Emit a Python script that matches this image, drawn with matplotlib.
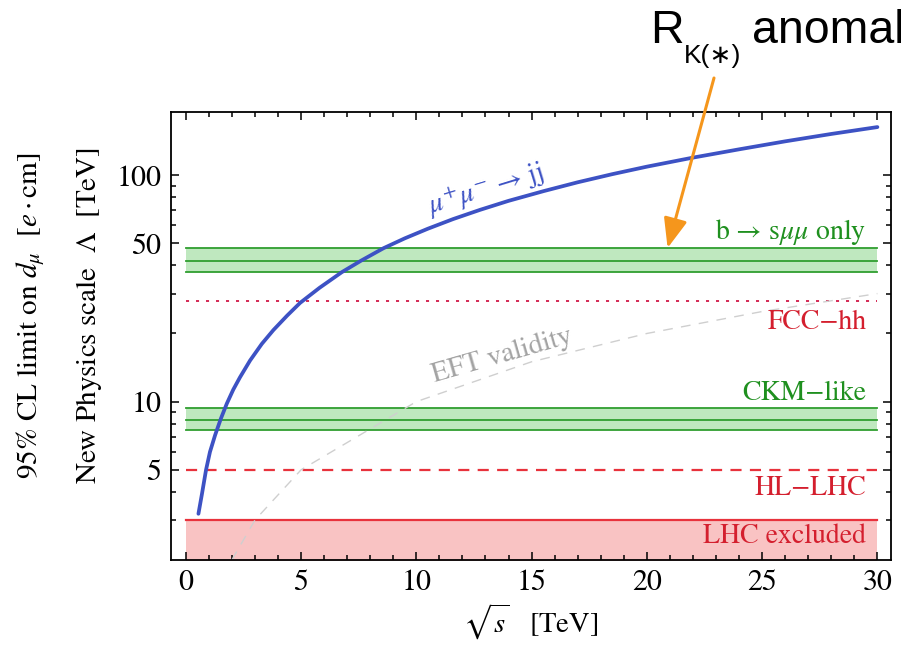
import matplotlib
matplotlib.use("Agg")
import matplotlib.pyplot as plt
from matplotlib.ticker import MultipleLocator, FixedLocator, NullFormatter

plt.rcParams.update({
    "font.family": "STIXGeneral",
    "mathtext.fontset": "stix",
    "lines.scale_dashes": False,
})

# ---- data -------------------------------------------------------------
x_span = [0, 30]                       # collider energy range of the horizontal bounds [TeV]

# mu+ mu- -> jj reach on Lambda vs sqrt(s)
sqrt_s_mumu = [0.55, 0.70, 0.88, 1.05, 1.27, 1.52, 1.78, 2.06, 2.35, 2.79, 3.30, 3.80,
               4.40, 4.96, 5.80, 6.77, 7.60, 8.58, 9.50, 10.5, 11.6, 12.77, 14.0,
               15.52, 17.0, 18.5, 20.0, 22.0, 24.0, 26.0, 28.0, 30.0]
lambda_mumu = [3.2, 3.9, 5.0, 6.0, 7.1, 8.4, 9.8, 11.3, 12.8, 15.2, 18.0, 20.7,
               24.0, 27.3, 31.8, 37.3, 41.9, 47.6, 52.6, 58.0, 64.0, 70.3, 77.0,
               85.0, 93.0, 101.0, 109.0, 119.5, 130.0, 141.0, 152.0, 163.0]

# EFT validity: Lambda = sqrt(s)
sqrt_s_eft = [2, 3, 5, 10, 15, 20, 25, 30]
lambda_eft = [2, 3, 5, 10, 15, 20, 25, 30]

bsmumu_band = [37.3, 41.8, 47.7]       # b -> s mu mu only (low, central, high)
ckm_band = [7.5, 8.3, 9.34]            # CKM-like (low, central, high)
fcc_hh = 27.7
hl_lhc = 5.0
lhc_excluded = 3.0

y_ticks = [5, 10, 50, 100]
y_tick_labels = ["5", "10", "50", "100"]
y_minor = [3, 4, 6, 7, 8, 9, 20, 30, 40, 60, 70, 80, 90]

# ---- colours ----------------------------------------------------------
blue = "#3d52c4"
green_line = "#2f9e2f"
green_fill = "#bfe8bf"
green_text = "#1f901f"
red_line = "#e8323c"
red_fill = "#f9c3c3"
red_text = "#d41f2e"
fcc_col = "#d42a55"
orange = "#f5961c"

W, H = 901, 653
fig = plt.figure(figsize=(W / 100, H / 100), dpi=100)
ax = fig.add_axes([171 / W, (H - 560) / H, (891 - 171) / W, (560 - 112) / H])
ax.set_yscale("log")
ax.set_xlim(-0.64, 30.59)
ax.set_ylim(2, 190)

# LHC excluded region
ax.fill_between(x_span, [1, 1], [lhc_excluded] * 2, color=red_fill, lw=0, zorder=1)
ax.plot(x_span, [lhc_excluded] * 2, color=red_line, lw=1.6, zorder=2)

# HL-LHC and FCC-hh projections
ax.plot(x_span, [hl_lhc] * 2, color=red_line, lw=1.6, dashes=(8, 6), zorder=2)
ax.plot(x_span, [fcc_hh] * 2, color=fcc_col, lw=1.4, dashes=(2.2, 5), zorder=2)

# green bands
for band in (bsmumu_band, ckm_band):
    ax.fill_between(x_span, [band[0]] * 2, [band[2]] * 2, color=green_fill, lw=0, zorder=1)
    for v in band:
        ax.plot(x_span, [v, v], color=green_line, lw=1.3, zorder=2)

# EFT validity line
ax.plot(sqrt_s_eft, lambda_eft, color="#cfcfcf", lw=1.0, dashes=(7, 6), zorder=2)

# mu+ mu- -> jj curve
ax.plot(sqrt_s_mumu, lambda_mumu, color=blue, lw=2.7, solid_capstyle="round", zorder=4)

# ---- labels inside the frame -----------------------------------------
fs = 20
xr = 29.52
ax.text(xr, 56, "b \u2192 s$\\mu\\mu$ only", color=green_text, fontsize=fs,
        ha="right", va="center")
ax.text(xr, 22.4, "FCC\u2212hh", color=red_text, fontsize=fs, ha="right", va="center")
ax.text(xr, 10.85, "CKM\u2212like", color=green_text, fontsize=fs, ha="right", va="center")
ax.text(xr, 4.12, "HL\u2212LHC", color=red_text, fontsize=fs, ha="right", va="center")
ax.text(xr, 2.55, "LHC excluded", color=red_text, fontsize=fs, ha="right", va="center")

ax.text(13.1, 80.7, "$\\mu^{+}\\mu^{-}$ \u2192 jj", color=blue, fontsize=20.5,
        rotation=17, rotation_mode="anchor", ha="center", va="baseline", zorder=5)
ax.text(13.7, 16.0, "EFT validity", color="#a3a3a3", fontsize=20.5,
        rotation=16, rotation_mode="anchor", ha="center", va="center")

# ---- axes styling -----------------------------------------------------
ax.xaxis.set_major_locator(MultipleLocator(5))
ax.xaxis.set_minor_locator(MultipleLocator(1))
ax.set_yticks(y_ticks, labels=y_tick_labels)
ax.yaxis.set_minor_locator(FixedLocator(y_minor))
ax.yaxis.set_minor_formatter(NullFormatter())
ax.tick_params(which="both", direction="in", top=True, right=True, labelsize=21.5, width=1.1)
ax.tick_params(which="major", length=6, pad=7)
ax.tick_params(which="minor", length=3.5)
for sp in ax.spines.values():
    sp.set_linewidth(1.3)

ax.set_xlabel("$\\sqrt{s}$   [TeV]", fontsize=20.5, labelpad=3)

fig.text(31 / W, 1 - 316 / H, "95% CL limit on $d_{\\mu}$  $[e\\cdot\\mathrm{cm}]$",
         rotation=90, fontsize=21, ha="center", va="center")
fig.text(89 / W, 1 - 316 / H, "New Physics scale  $\\Lambda$  [TeV]",
         rotation=90, fontsize=21, ha="center", va="center")

# ---- R_K(*) annotation ------------------------------------------------
sans = ["Liberation Sans", "DejaVu Sans"]
fig.text(650 / W, 1 - 43 / H, "R", fontsize=33.5, family=sans, va="baseline")
fig.text(684 / W, 1 - 63 / H, "K(\u2217)", fontsize=19, family=sans, va="baseline")
fig.text(752 / W, 1 - 43 / H, "anomalies", fontsize=33.5, family=sans, va="baseline")

ax.annotate("", xy=(20.9, bsmumu_band[2]), xycoords="data",
            xytext=(714 / W, 1 - 78 / H), textcoords="figure fraction",
            arrowprops=dict(arrowstyle="-|>,head_length=0.9,head_width=0.36",
                            mutation_scale=20, color=orange, lw=2.2,
                            shrinkA=0, shrinkB=0),
            annotation_clip=False, zorder=6)

fig.savefig("out.png", dpi=100)
